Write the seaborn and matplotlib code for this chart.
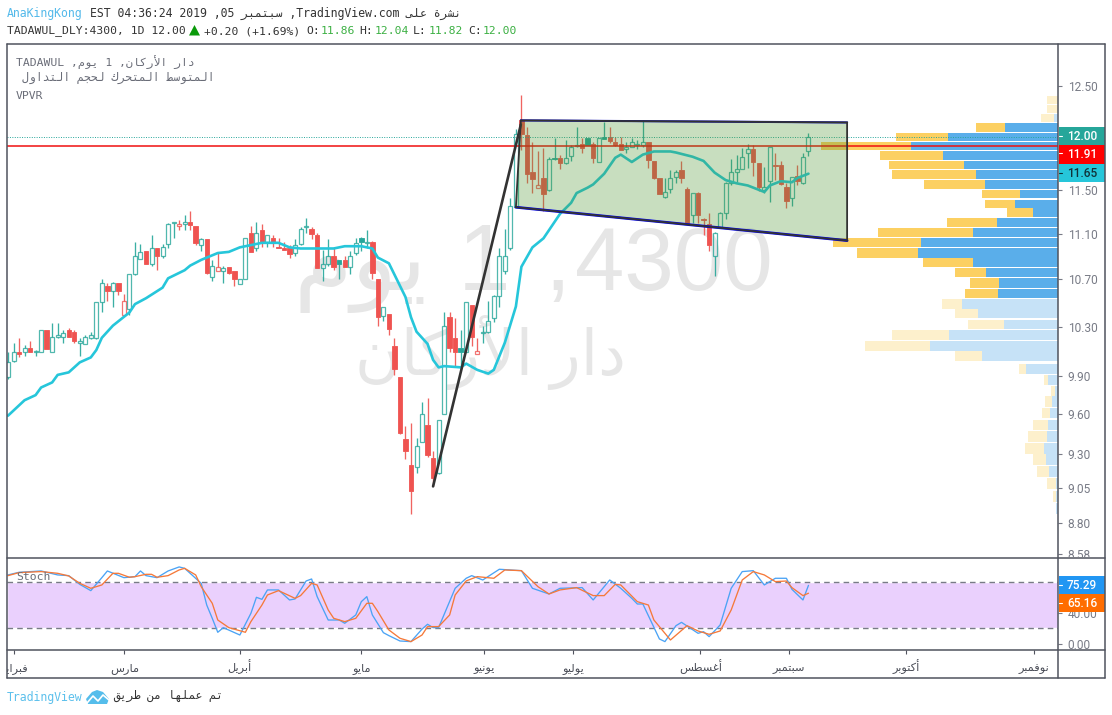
import numpy as np
import pandas as pd
import matplotlib
matplotlib.use("Agg")
import matplotlib.pyplot as plt
import seaborn as sns
from matplotlib.lines import Line2D
from matplotlib.patches import Rectangle, Polygon
from matplotlib.ticker import NullLocator
from matplotlib.transforms import Bbox

# ---------- OHLC ----------
opens = [9.89,10.02,10.09,10.09,10.13,10.09,10.09,10.27,10.09,10.22,10.22,10.27,10.26,10.17,10.16,10.21,10.21,10.51,10.64,10.60,
 10.67,10.40,10.45,10.75,10.88,10.95,10.83,10.97,10.90,11.01,11.20,11.17,11.19,11.21,11.17,11.00,11.05,10.72,10.77,10.77,
 10.81,10.77,10.66,10.70,11.11,10.97,11.13,11.03,11.06,10.98,10.97,10.97,10.93,11.01,11.16,11.14,11.09,10.80,10.83,10.90,
 10.87,10.87,10.81,10.93,11.06,11.02,11.03,10.70,10.39,10.41,10.14,9.89,9.41,9.22,9.20,9.39,9.52,9.27,9.16,9.60,
 10.38,10.21,10.13,10.09,10.48,10.08,10.25,10.26,10.37,10.56,10.77,10.97,11.34,12.16,12.02,11.67,11.52,11.61,11.50,11.80,
 11.80,11.75,11.82,11.91,11.93,11.99,11.93,11.76,12.00,12.00,11.95,11.93,11.88,11.90,11.92,11.92,11.95,11.77,11.61,11.43,
 11.51,11.62,11.68,11.51,11.27,11.47,11.23,11.19,10.90,11.16,11.29,11.56,11.67,11.69,11.85,11.88,11.75,11.50,11.58,11.73,
 11.73,11.53,11.42,11.63,11.56,11.86]
highs = [10.09,10.17,10.21,10.15,10.18,10.11,10.27,10.27,10.33,10.33,10.27,10.29,10.27,10.21,10.23,10.26,10.51,10.70,10.67,10.68,
 10.67,10.58,10.75,11.03,11.01,10.95,11.09,10.97,11.01,11.20,11.21,11.22,11.27,11.31,11.17,11.06,11.05,10.87,10.93,10.82,
 10.81,10.77,10.70,11.06,11.17,11.21,11.19,11.09,11.09,11.06,11.03,11.00,11.05,11.16,11.24,11.16,11.11,10.96,11.05,10.98,
 10.87,10.90,10.95,11.06,11.07,11.13,11.04,10.70,10.47,10.41,10.21,9.89,9.51,9.53,9.42,9.70,9.73,9.32,9.56,10.42,
 10.42,10.37,10.27,10.51,10.48,10.21,10.31,10.52,10.57,10.97,11.14,11.42,12.08,12.41,12.10,11.95,11.86,11.89,11.81,11.99,
 11.83,11.97,11.92,12.10,11.99,11.99,11.95,11.99,12.14,12.10,12.00,12.00,11.95,11.99,11.97,12.16,11.95,11.77,11.61,11.61,
 11.68,11.68,11.77,11.53,11.47,11.48,11.24,11.29,11.12,11.30,11.57,11.79,11.83,11.89,11.93,11.92,11.75,11.71,11.90,11.85,
 11.77,11.56,11.62,11.73,11.85,12.04]
lows = [9.88,10.01,10.05,10.06,10.09,10.06,10.09,10.12,10.09,10.21,10.17,10.22,10.17,10.06,10.16,10.20,10.20,10.42,10.52,10.47,
 10.57,10.40,10.40,10.74,10.88,10.83,10.82,10.78,10.89,10.97,11.06,11.13,11.13,11.13,11.00,10.95,10.75,10.69,10.77,10.67,
 10.75,10.64,10.66,10.70,10.94,10.95,10.98,10.98,10.98,10.97,10.96,10.89,10.90,11.00,11.11,11.05,10.80,10.69,10.82,10.78,
 10.70,10.81,10.75,10.91,10.95,10.97,10.70,10.31,10.35,10.23,9.91,9.45,9.26,8.86,9.16,9.39,9.28,9.06,9.15,9.60,
 10.09,9.98,9.97,10.09,10.14,10.08,10.17,10.25,10.34,10.47,10.75,10.96,11.34,11.87,11.56,11.47,11.52,11.31,11.49,11.78,
 11.69,11.74,11.77,11.90,11.85,11.92,11.75,11.76,11.98,11.94,11.91,11.87,11.85,11.90,11.88,11.90,11.70,11.60,11.46,11.42,
 11.47,11.56,11.56,11.20,11.20,11.20,11.09,10.95,10.73,11.16,11.23,11.54,11.57,11.69,11.70,11.63,11.49,11.47,11.39,11.59,
 11.54,11.33,11.35,11.54,11.55,11.82]
closes = [10.01,10.09,10.08,10.13,10.09,10.10,10.27,10.12,10.22,10.23,10.25,10.22,10.18,10.18,10.22,10.23,10.51,10.67,10.60,10.67,
 10.60,10.52,10.75,10.90,10.94,10.83,10.97,10.90,10.98,11.19,11.21,11.19,11.21,11.18,11.02,11.05,10.76,10.82,10.81,10.80,
 10.76,10.70,10.70,11.06,10.94,11.11,11.02,11.09,11.02,10.97,10.96,10.92,11.00,11.14,11.17,11.10,10.80,10.83,10.90,10.81,
 10.83,10.81,10.90,11.02,11.03,11.03,10.76,10.38,10.47,10.28,9.96,9.46,9.32,9.03,9.36,9.60,9.29,9.12,9.56,10.31,
 10.13,10.09,10.09,10.51,10.22,10.10,10.26,10.35,10.56,10.90,10.90,11.35,12.03,12.03,11.65,11.60,11.54,11.46,11.79,11.79,
 11.75,11.80,11.90,11.92,11.89,11.92,11.80,11.99,11.98,11.96,11.92,11.87,11.90,11.95,11.93,11.95,11.78,11.61,11.46,11.48,
 11.61,11.67,11.61,11.20,11.47,11.27,11.22,11.00,11.11,11.29,11.56,11.67,11.69,11.81,11.88,11.76,11.53,11.53,11.90,11.72,
 11.55,11.40,11.62,11.58,11.81,12.00]
hollow_red_bars = [21, 31, 38, 85, 96]
solid_teal_bars = [60, 64, 82, 99, 105, 108]

# ---------- moving average ----------
ma_bars = [0,3,5,6,8,9,11,13,15,16,17,19,22,23,25,28,29,32,33,35,38,40,42,46,49,51,53,56,59,61,64,66,67,69,72,73,74,76,77,78,79,82,83,85,87,88,90,92,93,95,97,100,102,103,105,106,108,110,111,113,115,117,120,121,124,126,128,130,132,134,137,138,140,142,143,145]
ma_vals = [9.59,9.71,9.75,9.81,9.85,9.91,9.93,10.01,10.05,10.11,10.21,10.31,10.42,10.49,10.54,10.63,10.71,10.78,10.82,10.87,10.93,10.94,10.98,11.02,11.02,10.98,10.97,10.97,10.97,10.99,10.99,10.97,10.89,10.84,10.55,10.38,10.26,10.16,10.03,9.97,9.98,9.97,10.00,9.95,9.92,9.95,10.17,10.47,10.81,10.98,11.06,11.28,11.38,11.47,11.52,11.55,11.65,11.80,11.83,11.76,11.83,11.86,11.86,11.85,11.81,11.77,11.66,11.59,11.56,11.54,11.48,11.54,11.58,11.57,11.61,11.65]

# ---------- stochastic ----------
k_bars = [0,2,6,9,11,13,15,17,18,21,23,24,25,27,29,31,32,35,36,37,38,39,42,44,45,46,47,49,51,52,54,55,56,58,60,61,63,64,65,66,68,69,71,73,75,76,77,78,81,83,84,86,89,93,95,98,100,104,106,109,111,113,114,115,118,119,121,122,125,126,127,129,131,133,135,137,139,141,142,144,145]
k_vals = [88.7,92.1,93.8,88.7,87.8,76.6,68.5,85.2,93.8,85.2,86.5,93.8,87.8,85.2,93.8,99,97.2,77.9,50,32.9,14.9,20.9,11.4,39.3,59.9,57.3,69.4,69.4,56.5,57.8,80.9,83.5,60.8,30.7,30.7,26.5,37.2,54.3,60.8,37.2,14.4,10.6,3.7,2.9,19,25.2,20.9,20.9,71.5,84.4,87.8,82.2,96,94.2,71.5,64.2,71.5,72.4,56.5,82.2,71.5,58.6,51.3,51.3,6.3,2.9,23.4,27.7,13.6,15.7,9.3,24.3,71.5,93,94.2,75.8,84.4,84.4,70.2,56.5,75.29]
d_bars = [0,2,6,9,11,13,15,17,19,20,22,23,25,26,27,29,31,32,34,35,37,38,40,43,44,46,47,49,52,53,55,56,58,59,61,63,65,66,67,69,71,73,75,76,78,80,81,83,85,88,90,93,96,98,100,103,106,108,110,111,114,116,117,120,123,125,127,129,131,133,135,137,139,141,142,144,145]
d_vals = [87.8,91.7,93,90.8,87.4,77.9,71.5,75.8,90.8,90.8,85.7,86.5,89.5,89.5,85.7,87.8,95.1,97.2,88.7,73.6,52.2,30.7,20.9,14.9,28.6,50,62.9,68.5,58.6,62.1,77.9,75.8,43.6,32.9,28.6,32.9,52.2,52.2,41.5,17.9,7.2,2.9,11.4,22.2,22.2,37.2,62.9,81,86.5,84.4,95.1,94.2,73.6,64.2,69.4,72.4,62.1,62.1,76.6,75.8,54.3,50,30.7,5,23.4,16.6,12.3,16.6,43.6,82.2,93,88.7,80.1,80.9,72.4,62.1,65.16]

# ---------- volume profile (price level, up and down volume) ----------
vp_levels = [12.36,12.27,12.18,12.09,12.00,11.91,11.82,11.73,11.64,11.55,11.46,11.37,11.29,11.20,11.11,11.02,10.93,10.85,10.76,10.67,10.58,10.49,10.41,10.32,10.23,10.14,10.06,9.96,9.87,9.78,9.70,9.61,9.52,9.43,9.34,9.26,9.17,9.08,8.99,8.90]
vp_up = [0,0,4,53,110,147,115,94,82,73,38,43,25,61,85,137,140,85,72,59,60,96,80,54,109,128,76,32,10,3,6,8,10,11,14,12,9,2,2,2]
vp_down = [11,11,13,29,52,90,63,75,84,61,38,30,26,50,95,88,61,50,31,29,33,20,23,36,57,65,27,7,4,4,7,8,15,19,19,13,12,9,3,0]
vp_value_area = (3, 20)

# ---------- axis labels ----------
price_ticks = [12.50, 11.50, 11.10, 10.70, 10.30, 9.90, 9.60, 9.30, 9.05, 8.80, 8.58]
stoch_ticks = [40, 0]
month_bars = [1.1, 21.1, 42, 64, 86.2, 102.4, 125.4, 141.5, 162.7, 185.9]
month_names = ["فبراير","مارس","أبريل","مايو","يونيو","يوليو","أغسطس","سبتمبر","أكتوبر","نوفمبر"]

# ---------- drawings on the chart (bar, price) ----------
channel = [(92.9, 12.16), (152, 12.14), (152, 11.04), (92, 11.34)]
impulse = [(77, 9.06), (92.9, 12.12)]

W, H = 1112, 715
sns.set_theme(style="white")
plt.rcParams["font.family"] = ["DejaVu Sans"]
MONO = ["DejaVu Sans Mono", "DejaVu Sans"]
AXISFONT = ["Roboto", "DejaVu Sans"]
WMARK = ["Liberation Sans", "DejaVu Sans"]
GREY = "#787b86"
FRAME = "#50535e"
TEAL = "#26a69a"
RED = "#ef5350"

DUAL = {"ب":0xFE8F,"ت":0xFE95,"ج":0xFE9D,"ح":0xFEA1,"س":0xFEB1,"ش":0xFEB5,"ط":0xFEC1,"ع":0xFEC9,"غ":0xFECD,
        "ف":0xFED1,"ق":0xFED5,"ك":0xFED9,"ل":0xFEDD,"م":0xFEE1,"ن":0xFEE5,"ه":0xFEE9,"ي":0xFEF1}
RIGHT = {"ا":0xFE8D,"أ":0xFE83,"ة":0xFE93,"د":0xFEA9,"ر":0xFEAD,"و":0xFEED,"ى":0xFEEF}
LAM_ALEF = {"ا":0xFEFB,"أ":0xFEF7}


def ar(text):
    """Arabic text in logical order -> contextual forms in visual order."""
    out = []
    i = 0
    while i < len(text):
        c = text[i]
        prev = text[i - 1] if i else " "
        joined = prev in DUAL
        nxt = text[i + 1] if i + 1 < len(text) else " "
        if c == "ل" and nxt in LAM_ALEF:
            out.append(chr(LAM_ALEF[nxt] + (1 if joined else 0)))
            i += 2
            continue
        if c in DUAL:
            links = nxt in DUAL or nxt in RIGHT
            form = (3 if joined else 2) if links else (1 if joined else 0)
            out.append(chr(DUAL[c] + form))
        elif c in RIGHT:
            out.append(chr(RIGHT[c] + (1 if joined else 0)))
        else:
            out.append(c)
        i += 1
    return "".join(reversed(out))


def px_axes(x0, y0, x1, y1):
    return fig.add_axes([x0 / W, 1 - y1 / H, (x1 - x0) / W, (y1 - y0) / H])


def T(x, y, s, color="#333333", size=8.2, family=None, ha="left", va="center", **kw):
    return fig.text(x / W, 1 - y / H, s, color=color, fontsize=size, family=family or MONO,
                    ha=ha, va=va, **kw)


fig = plt.figure(figsize=(W / 100, H / 100), dpi=100, facecolor="white")
ax = px_axes(7, 45, 1058, 557)
ax_st = px_axes(7, 558, 1058, 650)

# ---------- watermark ----------
WM = "#e6e6e6"
T(293, 290, ar("يوم"), color=WM, size=68, family=WMARK, va="baseline", zorder=0)
T(458, 290, "1", color=WM, size=68, family=WMARK, va="baseline", zorder=0)
T(545, 290, ",", color=WM, size=68, family=WMARK, va="baseline", zorder=0)
T(575, 290, "4300", color=WM, size=64, family=WMARK, va="baseline", zorder=0)
T(355, 375, ar("دار الأركان"), color=WM, size=45, family=WMARK, va="baseline", zorder=0)

# ---------- main pane ----------
ax.set_yscale("log")
ax.set_ylim(8.56, 12.92)
ax.set_xlim(-0.18, 190.2)
ax.patch.set_visible(False)
ax.set_zorder(2)

ax_vp = ax.twiny()
ax_vp.set_zorder(1)
ax_vp.patch.set_visible(False)
ax_vp.set_xlim(1051, 0)
ax_vp.set_axis_off()
step = 0.08
for i, (lv, up, dn) in enumerate(zip(vp_levels, vp_up, vp_down)):
    inside = vp_value_area[0] <= i <= vp_value_area[1]
    cu, cd = ("#5aaeea", "#fcd062") if inside else ("#c6e2f7", "#fdf0cc")
    bottom = lv - step / 2
    ax_vp.barh(bottom, up, height=step, align="edge", color=cu, linewidth=0)
    ax_vp.barh(bottom, dn, height=step, left=up, align="edge", color=cd, linewidth=0)

bars = np.arange(len(closes))
o, h, l, c = map(np.array, (opens, highs, lows, closes))
top, bot = np.maximum(o, c), np.minimum(o, c)
for i in bars:
    solid = c[i] < o[i] or i in solid_teal_bars
    red = (c[i] < o[i] and i not in solid_teal_bars) or i in hollow_red_bars
    col = RED if red else TEAL
    ax.vlines(i, top[i], h[i], color=col, lw=0.95, zorder=3, alpha=0.9)
    ax.vlines(i, l[i], bot[i], color=col, lw=0.95, zorder=3, alpha=0.9)
    if solid:
        ax.bar(i, top[i] - bot[i], bottom=bot[i], width=0.8, color=col, edgecolor=col, lw=0.6, zorder=4)
    else:
        ax.bar(i, top[i] - bot[i], bottom=bot[i], width=0.72, facecolor="none",
               edgecolor=col, lw=0.9, zorder=4, alpha=0.8)

sns.lineplot(x=ma_bars, y=ma_vals, ax=ax, color="#26c6da", lw=1.9, zorder=5, legend=False, estimator=None)
ax.axhline(11.91, color="#f01010", lw=1.1, zorder=5)
ax.axhline(12.00, color=TEAL, lw=0.7, ls=(0, (1, 1.5)), zorder=5)

ax.plot(*zip(*impulse), color="#333333", lw=1.9, zorder=6)
ax.add_patch(Polygon(channel, closed=True, facecolor="#4b942d", alpha=0.3, edgecolor="none", zorder=7))
ax.add_patch(Polygon(channel, closed=True, facecolor="none", edgecolor="#333333", lw=1.3, zorder=8))
ax.plot([channel[0][0], channel[1][0]], [channel[0][1], channel[1][1]], color="#0000c8", lw=1.5, zorder=7.5)
ax.plot([channel[3][0], channel[2][0]], [channel[3][1], channel[2][1]], color="#0000f0", lw=2.0, zorder=7.5)

ax.set_xlabel("")
ax.set_ylabel("")
ax.set_xticks([])
ax.yaxis.tick_right()
ax.yaxis.set_minor_locator(NullLocator())
ax.set_yticks(price_ticks)
ax.set_yticklabels([f"{v:.2f}" for v in price_ticks], family=AXISFONT, fontsize=8.6, color=GREY)
ax.yaxis.set_minor_locator(NullLocator())
ax.tick_params(axis="y", which="major", right=True, left=False, length=3, width=0.8, color=GREY, pad=4)
for t in ax.get_yticklabels():
    t.set_clip_on(True)
    t.set_clip_box(Bbox([[1058, H - 557], [1105, H - 45]]))
for s in ax.spines.values():
    s.set_visible(False)

# ---------- stochastic pane ----------
ax_st.set_xlim(-0.18, 190.2)
ax_st.set_ylim(-7.9, 110.5)
ax_st.axhspan(20, 80, facecolor="#ead0fd", zorder=1)
for lvl in (80, 20):
    ax_st.axhline(lvl, color=GREY, lw=1.0, ls=(0, (4, 3)), zorder=2)
sns.lineplot(x=k_bars, y=k_vals, ax=ax_st, color="#4ba3f5", lw=0.95, zorder=3, legend=False, estimator=None)
sns.lineplot(x=d_bars, y=d_vals, ax=ax_st, color="#f5793a", lw=0.95, zorder=4, legend=False, estimator=None)
ax_st.set_xlabel("")
ax_st.set_ylabel("")
ax_st.yaxis.tick_right()
ax_st.set_yticks(stoch_ticks)
ax_st.set_yticklabels([f"{v:.2f}" for v in stoch_ticks], family=AXISFONT, fontsize=8.6, color=GREY)
ax_st.set_xticks(month_bars)
ax_st.set_xticklabels([ar(m) for m in month_names], fontsize=8.2, color="#4a4d57", va="baseline")
ax_st.tick_params(axis="y", right=True, left=False, length=3, width=0.8, color=GREY, pad=4)
ax_st.tick_params(axis="x", bottom=True, length=3, width=0.8, color=FRAME, pad=12)
for t in ax_st.get_xticklabels():
    t.set_va("baseline")
    t.set_clip_on(True)
    t.set_clip_box(Bbox([[7, 0], [1058, H]]))
for s in ax_st.spines.values():
    s.set_visible(False)


# ---------- price tags ----------
def tag(y0, y1, fill, text, tick_y, ink="white"):
    fig.add_artist(Rectangle((1058.5 / W, 1 - y1 / H), 46 / W, (y1 - y0) / H, transform=fig.transFigure,
                             facecolor=fill, edgecolor="none", zorder=5))
    fig.add_artist(Line2D([1059 / W, 1062 / W], [1 - tick_y / H] * 2, color=ink, lw=0.8, zorder=6))
    T(1067, (y0 + y1) / 2 + 0.2, text, color=ink, size=8.6, family=AXISFONT, weight="medium", zorder=6)


tag(127, 145, TEAL, "12.00", 136)
tag(145, 163.5, "#ff0000", "11.91", 153)
tag(164, 182, "#26c6da", "11.65", 173, ink="#10323a")
tag(576, 594, "#2196f3", "75.29", 585)
tag(594, 612, "#ff6d00", "65.16", 603)

# ---------- frame ----------
frame_lines = [((6.5, 1105), (44, 44)), ((6.5, 1105), (678, 678)), ((6.5, 6.5), (44, 678)), ((1105, 1105), (44, 678)),
               ((1058, 1058), (44, 678)), ((6.5, 1105), (557.5, 557.5)), ((6.5, 1105), (650, 650))]
for xs, ys in frame_lines:
    fig.add_artist(Line2D([v / W for v in xs], [1 - v / H for v in ys], color=FRAME, lw=1.1, zorder=7))

# ---------- header ----------
T(7, 13, "AnaKingKong", color="#53b9ea", size=8.3)
T(90, 13, "EST 04:36:24 2019 ,05 " + ar("سبتمبر") + " ,TradingView.com " + ar("نشرة على"), size=8.3)
T(7, 31, "TADAWUL_DLY:4300, 1D 12.00")
fig.add_artist(Polygon([[189 / W, 1 - 35.5 / H], [200 / W, 1 - 35.5 / H], [194.5 / W, 1 - 25 / H]], closed=True,
                       transform=fig.transFigure, facecolor="#0a9a0a", edgecolor="none", zorder=6))
T(204, 31, "+0.20 (+1.69%)")
GREEN = "#3cb043"
for x_lab, lab, x_val, val in [(306, "O:", 321, "11.86"), (359, "H:", 375, "12.04"),
                               (413, "L:", 429, "11.82"), (468, "C:", 483, "12.00")]:
    T(x_lab, 31, lab)
    T(x_val, 31, val, color=GREEN)

# ---------- legend ----------
LEG = "#6a6d78"
T(16, 62, "TADAWUL ," + ar("يوم") + " 1 ," + ar("دار الأركان"), color=LEG, size=8.2, zorder=6)
T(22, 78, ar("المتوسط المتحرك لحجم التداول"), color=LEG, size=8.3, zorder=6)
T(16, 96, "VPVR", color=LEG, size=8.2, zorder=6)
T(16, 577, "Stoch", color=LEG, size=8.2, zorder=6)

# ---------- footer ----------
T(7, 697, "TradingView", color="#5cc0ec", size=8.3)
T(113, 696, ar("تم عملها من طريق"), color="#333333", size=8.3)
logo = [(86, 699), (92, 692), (97, 690), (103, 692), (109, 699), (107, 704), (88, 704)]
fig.add_artist(Polygon([(x / W, 1 - y / H) for x, y in logo], closed=True, transform=fig.transFigure,
                       facecolor="#55bdeb", edgecolor="none", zorder=6))
fig.add_artist(Line2D([v / W for v in (87, 93, 98, 103, 109)], [1 - v / H for v in (703, 696, 701, 695, 700)],
                      color="white", lw=1.2, zorder=7))

fig.savefig("out.png", dpi=100, facecolor="white")
